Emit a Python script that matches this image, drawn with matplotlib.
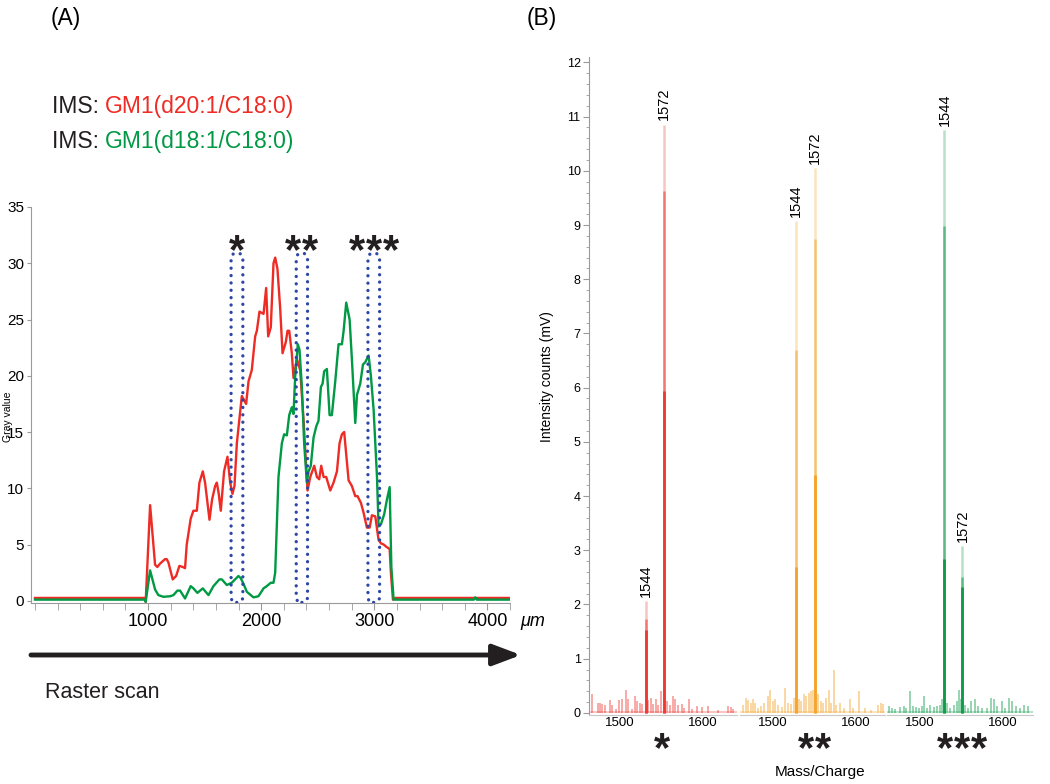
import numpy as np
import matplotlib
matplotlib.use("Agg")
from matplotlib import pyplot as plt
from matplotlib.patches import FancyBboxPatch
from matplotlib.ticker import MultipleLocator

plt.rcParams['font.family'] = ['Liberation Sans', 'DejaVu Sans']

# ---- (A) line scan of the IMS images ----
red_x = [0, 975, 979, 1018, 1062, 1082, 1106, 1150, 1165, 1180, 1218, 1248, 1277, 1307,
         1327, 1342, 1377, 1401, 1431, 1454, 1484, 1504, 1543, 1566, 1593, 1608, 1625,
         1643, 1672, 1702, 1726, 1746, 1764, 1785, 1829, 1867, 1888, 1917, 1947, 1962,
         1985, 2021, 2044, 2062, 2085, 2109, 2124, 2144, 2168, 2189, 2218, 2233, 2248,
         2271, 2286, 2316, 2345, 2375, 2410, 2434, 2469, 2493, 2513, 2531, 2552, 2575,
         2611, 2640, 2670, 2693, 2714, 2734, 2752, 2773, 2802, 2832, 2852, 2882, 2906,
         2935, 2959, 2979, 3009, 3038, 3059, 3083, 3106, 3136, 3147, 3165, 3186, 4200]
red_y = [0.25, 0.25, -0.1, 8.5, 3.2, 3.0, 3.3, 3.7, 3.7, 3.4, 1.9, 2.2, 3.1, 3.0,
         2.9, 5.0, 7.3, 8.0, 8.0, 10.5, 11.5, 10.5, 7.2, 9.0, 10.2, 10.5, 9.5,
         8.0, 11.5, 12.8, 10.5, 9.5, 10.2, 14.0, 18.2, 17.5, 19.5, 20.5, 23.5, 24.0,
         25.7, 25.5, 27.8, 23.5, 24.3, 30.0, 30.5, 29.5, 26.0, 22.0, 23.0, 24.0, 24.0,
         22.0, 19.8, 21.5, 20.5, 16.0, 9.8, 11.0, 12.0, 11.0, 10.8, 12.0, 11.0, 11.0,
         9.8, 10.5, 11.5, 14.0, 14.8, 15.0, 13.0, 10.7, 10.2, 9.3, 9.3, 8.7, 7.8,
         6.5, 6.5, 7.6, 7.5, 5.4, 5.1, 5.0, 4.8, 4.6, 2.5, 0.1, 0.25, 0.25]

green_x = [0, 975, 979, 1018, 1062, 1091, 1136, 1195, 1224, 1259, 1283, 1327, 1377, 1401,
           1436, 1484, 1534, 1578, 1631, 1652, 1696, 1740, 1799, 1820, 1844, 1873, 1932,
           1976, 2021, 2050, 2085, 2109, 2124, 2153, 2183, 2203, 2227, 2248, 2271, 2286,
           2301, 2324, 2339, 2360, 2380, 2404, 2419, 2439, 2463, 2487, 2507, 2528, 2543,
           2557, 2581, 2605, 2625, 2655, 2684, 2714, 2729, 2752, 2782, 2802, 2832, 2847,
           2876, 2900, 2920, 2950, 2970, 2994, 3024, 3038, 3059, 3088, 3112, 3136, 3151,
           3171, 3880, 3893, 3906, 4200]
green_y = [0.1, 0.1, -0.1, 2.7, 1.0, 0.5, 0.35, 0.4, 0.5, 0.9, 0.9, 0.2, 1.3, 1.1,
           0.7, 1.1, 0.5, 1.3, 1.9, 1.9, 1.4, 1.6, 2.2, 2.0, 1.5, 0.8, 0.3,
           0.4, 1.1, 1.3, 1.6, 1.6, 2.5, 11.0, 14.0, 14.8, 14.7, 16.5, 17.2, 16.6,
           20.0, 22.8, 22.3, 19.0, 14.0, 10.5, 11.5, 12.0, 14.5, 15.5, 16.0, 19.0, 19.3,
           20.4, 20.6, 16.5, 16.5, 19.5, 22.8, 22.8, 24.0, 26.5, 25.0, 21.5, 15.8, 18.3,
           19.3, 21.0, 21.2, 21.8, 20.0, 17.0, 11.0, 6.6, 6.8, 7.7, 9.0, 10.1, 3.0,
           0.1, 0.1, 0.3, 0.1, 0.1]

# sampled regions (start, end) and their marks
region_start = [1734, 2310, 2944]
region_end = [1838, 2410, 3047]
region_marks = ['*', '**', '***']

# ---- (B) mass spectra at the three regions ----
spec_colors = ['#ee3a32', '#f5a429', '#109b4b']
peak_mz = [[1531, 1553], [1528, 1550], [1529.3, 1551]]
peak_names = [['1544', '1572'], ['1544', '1572'], ['1544', '1572']]
# heights of the light / mid / dark traces of each peak
peak_top = [[2.06, 10.85], [9.07, 10.05], [10.75, 3.08]]
peak_mid = [[1.73, 9.63], [6.7, 8.74], [8.99, 2.5]]
peak_low = [[1.53, 5.93], [2.7, 4.38], [2.83, 2.33]]

noise1_x = [1466.7, 1473.1, 1475.9, 1478.7, 1481.9, 1488.0, 1490.0, 1494.8, 1499.2, 1502.8,
            1506.8, 1510.0, 1514.1, 1518.1, 1520.9, 1524.1, 1526.9, 1534.1, 1536.9, 1540.2,
            1543.0, 1546.2, 1549.4, 1556.2, 1560.2, 1563.5, 1566.3, 1569.5, 1574.3, 1577.5,
            1583.1, 1587.1, 1592.4, 1598.4, 1606.4, 1618.5, 1630.5, 1633.3, 1636.5]
noise1_y = [0.34, 0.18, 0.18, 0.17, 0.15, 0.23, 0.15, 0.07, 0.23, 0.25,
            0.43, 0.25, 0.07, 0.31, 0.21, 0.18, 0.17, 0.23, 0.28, 0.17,
            0.25, 0.15, 0.40, 0.21, 0.15, 0.31, 0.25, 0.15, 0.17, 0.09,
            0.25, 0.07, 0.12, 0.11, 0.13, 0.06, 0.12, 0.11, 0.07]
noise2_x = [1463.9, 1466.7, 1469.9, 1473.1, 1475.9, 1478.7, 1481.9, 1485.9, 1489.2, 1493.2,
            1496.0, 1500.0, 1502.8, 1506.0, 1510.8, 1514.9, 1518.1, 1522.1, 1525.3, 1530.9,
            1534.1, 1537.3, 1540.2, 1543.0, 1545.4, 1547.8, 1554.2, 1557.4, 1560.2, 1564.3,
            1567.1, 1569.5, 1573.1, 1576.3, 1580.3, 1585.5, 1592.4, 1596.4, 1603.2, 1610.4,
            1618.5, 1626.5, 1629.7, 1632.5]
noise2_y = [0.15, 0.28, 0.23, 0.18, 0.25, 0.18, 0.09, 0.13, 0.18, 0.31,
            0.43, 0.21, 0.25, 0.15, 0.11, 0.46, 0.18, 0.17, 0.28, 0.25,
            0.21, 0.34, 0.31, 0.37, 0.40, 0.43, 0.34, 0.21, 0.18, 0.28,
            0.43, 0.18, 0.80, 0.15, 0.18, 0.09, 0.25, 0.09, 0.40, 0.09,
            0.06, 0.15, 0.18, 0.17]
noise3_x = [1462.7, 1465.9, 1469.9, 1475.9, 1479.9, 1482.7, 1488.0, 1490.8, 1494.8, 1498.0,
            1502.0, 1505.2, 1508.0, 1512.0, 1516.1, 1520.1, 1524.1, 1526.9, 1532.1, 1536.1,
            1540.2, 1544.2, 1547.0, 1549.4, 1554.2, 1558.2, 1561.4, 1565.5, 1569.5, 1574.3,
            1580.3, 1585.5, 1588.4, 1592.4, 1598.4, 1602.4, 1607.2, 1611.2, 1615.3, 1620.5,
            1625.7, 1630.5]
noise3_y = [0.12, 0.09, 0.07, 0.11, 0.12, 0.09, 0.40, 0.12, 0.11, 0.09,
            0.12, 0.31, 0.09, 0.15, 0.11, 0.12, 0.15, 0.25, 0.18, 0.09,
            0.15, 0.21, 0.43, 0.25, 0.15, 0.09, 0.21, 0.25, 0.12, 0.09,
            0.09, 0.28, 0.25, 0.12, 0.21, 0.09, 0.28, 0.21, 0.12, 0.09,
            0.15, 0.12]
noise_x = [noise1_x, noise2_x, noise3_x]
noise_y = [noise1_y, noise2_y, noise3_y]
mz_ticks = [1500, 1600]

W, H = 1050, 784
fig = plt.figure(figsize=(W / 100, H / 100), dpi=100)

# overlay in pixel units for free text
ov = fig.add_axes([0, 0, 1, 1])
ov.set_xlim(0, W)
ov.set_ylim(H, 0)
ov.axis('off')

grey = '#9a9a9a'
star_font = dict(fontsize=30, fontweight='bold', color='#231f20')
star_pitch = 12.3  # points between neighbouring stars


def draw_stars(target, x, y, mark, coords):
    n = len(mark)
    for k in range(n):
        dx = (k - (n - 1) / 2) * star_pitch
        target.annotate('*', xy=(x, y), xycoords=coords, xytext=(dx, 0),
                        textcoords='offset points', ha='center', va='baseline',
                        **star_font)


# left panel
ax = fig.add_axes([31 / W, 1 - 603 / H, 479 / W, 396 / H])
ax.plot(red_x, red_y, color='#ee2b24', lw=1.7)
ax.plot(green_x, green_y, color='#009944', lw=1.7)
for x0, x1, m in zip(region_start, region_end, region_marks):
    box = FancyBboxPatch((x0, -0.15), x1 - x0, 31.05,
                         boxstyle='round,pad=0,rounding_size=50', mutation_aspect=0.01,
                         fill=False, ec='#2c47a5', lw=2.4, ls=(0, (0.01, 2.2)),
                         capstyle='round', zorder=3)
    ax.add_patch(box)
    draw_stars(ax, (x0 + x1) / 2, 30.05, m, 'data')
ax.set_xlim(-35, 4200)
ax.set_ylim(-0.2, 35)
ax.set_xticks([1000, 2000, 3000, 4000])
ax.xaxis.set_minor_locator(MultipleLocator(200))
ax.set_yticks(np.arange(0, 36, 5))
for s in ['top', 'right']:
    ax.spines[s].set_visible(False)
for s in ['left', 'bottom']:
    ax.spines[s].set_color(grey)
ax.tick_params(axis='x', which='major', length=5, color=grey, labelsize=13, pad=2)
ax.tick_params(axis='x', which='minor', length=5, color=grey)
ax.tick_params(axis='y', length=3, color=grey, labelsize=11, pad=2)
ax.patch.set_alpha(0)

ov.text(520, 621, 'μm', ha='left', va='center', fontsize=13, style='italic')
ov.text(8.5, 417, 'Gray value', rotation=90, ha='center', va='center', fontsize=7.5)
ov.text(51, 18, '(A)', ha='left', va='center', fontsize=16.5)
ov.text(527, 18, '(B)', ha='left', va='center', fontsize=16.5)

t1 = ov.text(52, 113, 'IMS: ', ha='left', va='baseline', fontsize=16.5, color='#231f20')
ov.annotate('GM1(d20:1/C18:0)', xy=(1, 0), xycoords=t1, ha='left', va='bottom',
            fontsize=16.5, color='#ee2b24')
t2 = ov.text(52, 148, 'IMS: ', ha='left', va='baseline', fontsize=16.5, color='#231f20')
ov.annotate('GM1(d18:1/C18:0)', xy=(1, 0), xycoords=t2, ha='left', va='bottom',
            fontsize=16.5, color='#009944')

ov.annotate('', xy=(521, 655), xytext=(31, 655),
            arrowprops=dict(arrowstyle='-|>,head_length=0.85,head_width=0.32',
                            lw=3.5, color='#231f20', mutation_scale=20,
                            shrinkA=0, shrinkB=0))
ov.text(45, 692, 'Raster scan', ha='left', va='center', fontsize=15.5, color='#231f20')

# right panels
edges = [(589, 737), (740, 885), (887, 1033)]
xlims = [(1462.7, 1641), (1460, 1635), (1460, 1636)]
bottom_px, top_px = 714.5, 57
for i, ((l, r), xl) in enumerate(zip(edges, xlims)):
    a = fig.add_axes([l / W, 1 - bottom_px / H, (r - l) / W, (bottom_px - top_px) / H])
    c = spec_colors[i]
    a.plot(xl, [0.02, 0.02], color=c, lw=1.2, alpha=0.35)
    a.vlines(noise_x[i], 0, noise_y[i], color=c, lw=1.2, alpha=0.5)
    a.vlines(peak_mz[i], 0, peak_top[i], color=c, lw=1.8, alpha=0.3)
    a.vlines(peak_mz[i], 0, peak_mid[i], color=c, lw=1.8, alpha=0.55)
    a.vlines(peak_mz[i], 0, peak_low[i], color=c, lw=2.0, alpha=1.0)
    for x, h, name in zip(peak_mz[i], peak_top[i], peak_names[i]):
        a.text(x, h + 0.08, name, rotation=90, ha='center', va='bottom', fontsize=10.5)
    a.set_xlim(xl)
    a.set_ylim(-0.03, 12.1)
    a.set_xticks(mz_ticks)
    a.tick_params(axis='x', length=0, labelsize=9.5, pad=2)
    for s in ['top', 'right', 'left']:
        a.spines[s].set_visible(False)
    a.spines['bottom'].set_color('#c8c8c8')
    a.patch.set_alpha(0)
    if i == 0:
        a.spines['left'].set_visible(True)
        a.spines['left'].set_color(grey)
        a.set_yticks(range(13))
        a.yaxis.set_minor_locator(MultipleLocator(0.2))
        a.tick_params(axis='y', which='major', length=4, color=grey, labelsize=9, pad=2)
        a.tick_params(axis='y', which='minor', length=2, color=grey)
    else:
        a.set_yticks([])
    cx = (l + r) / 2 - 2 + (1 if i == 0 else 4)
    draw_stars(ov, cx, 761, region_marks[i], 'data')

ov.text(547, 377, 'Intensity counts (mV)', rotation=90, ha='center', va='center',
        fontsize=10)
ov.text(820, 772, 'Mass/Charge', ha='center', va='center', fontsize=11)

fig.savefig('out.png', dpi=100)
